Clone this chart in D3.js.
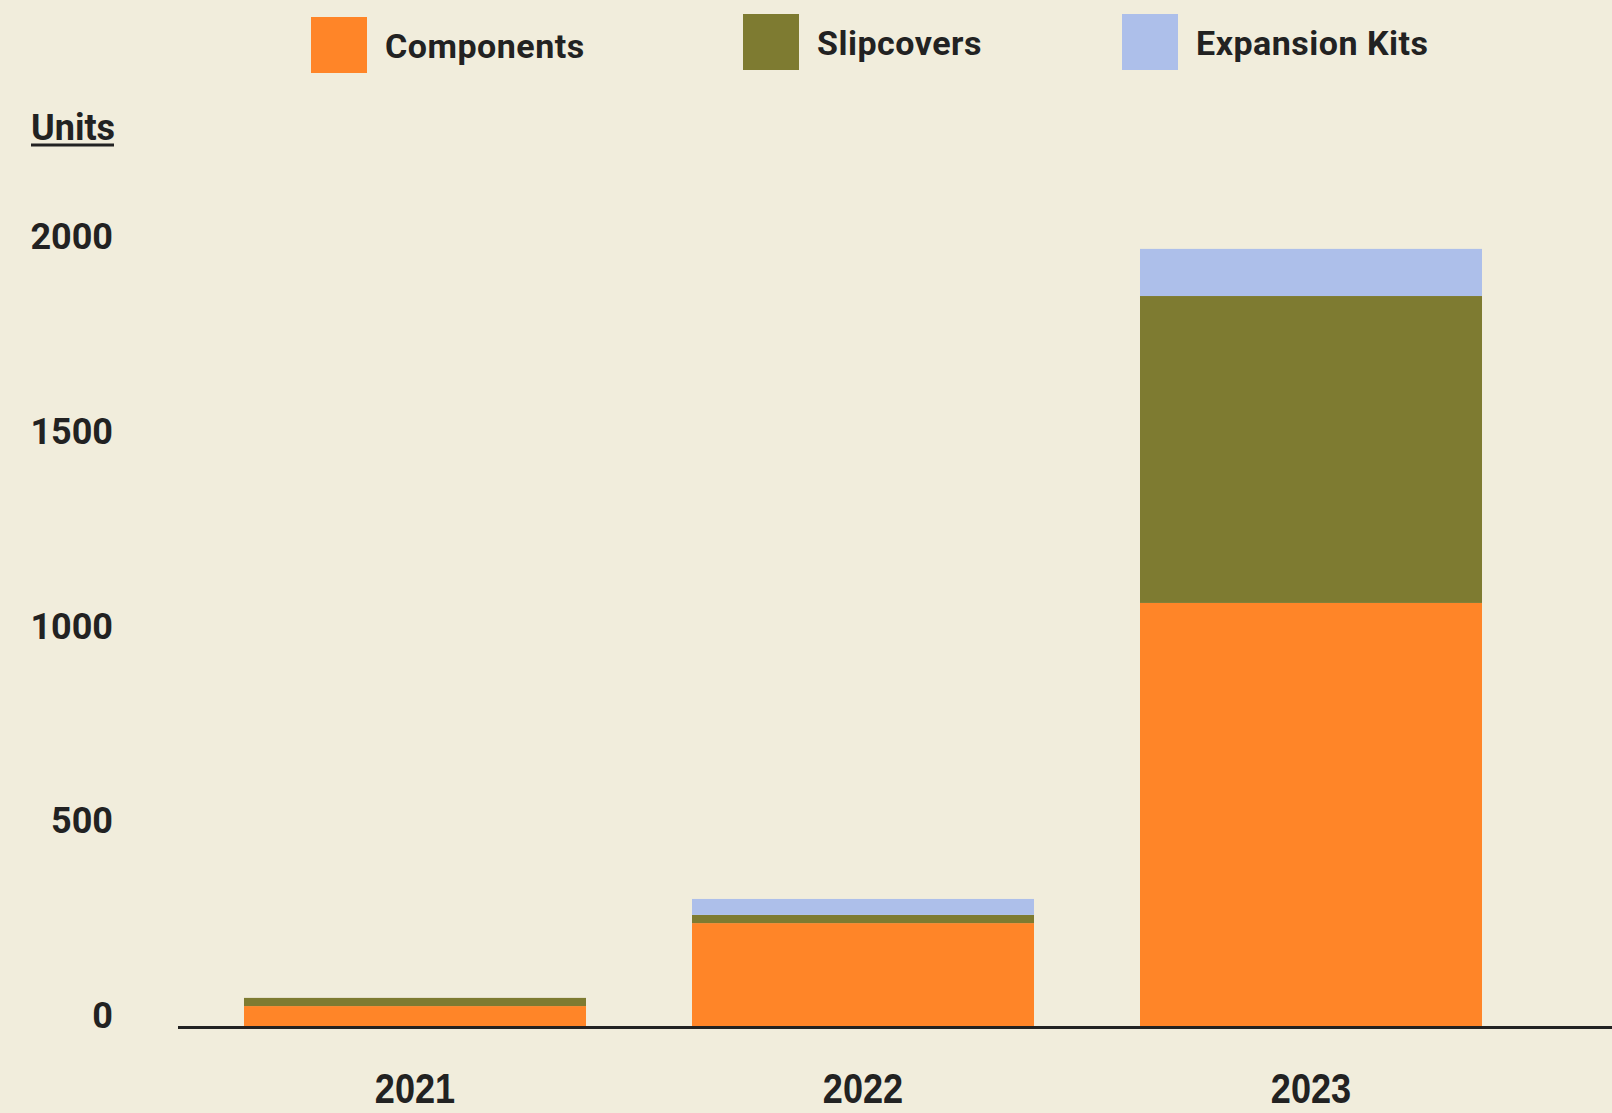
<!DOCTYPE html>
<html>
<head>
<meta charset="utf-8">
<script src="https://cdn.jsdelivr.net/npm/d3@7"></script>
<style>
  body { margin: 0; background: #f1eddc; }
</style>
</head>
<body>
<div id="grafico"></div>
<script>
// data
const years  = ['2021', '2022', '2023'];
const series = ['Components', 'Slipcovers', 'Expansion Kits'];
const components    = [55, 268, 1090];
const slipcovers    = [21, 21, 788];
const expansionKits = [0, 41, 121];
const yTicks = [0, 500, 1000, 1500, 2000];
const colors = ['#ff8528', '#7e7b31', '#adbfea'];

const width  = 1612;
const height = 1113;
const ink = '#222222';

const data = years.map((y, i) => ({
    year: y,
    'Components': components[i],
    'Slipcovers': slipcovers[i],
    'Expansion Kits': expansionKits[i]
}));

const svg = d3.select('#grafico')
              .append('svg')
              .attr('width', width)
              .attr('height', height);

svg.append('rect')
   .attr('width', width)
   .attr('height', height)
   .attr('fill', '#f1eddc');

const xScale = d3.scaleBand()
                 .domain(years)
                 .range([138, 1588])
                 .padding(0.2366);

const yScale = d3.scaleLinear()
                 .domain([0, 2000])
                 .range([1027.5, 248.5]);

const colorScale = d3.scaleOrdinal()
                     .domain(series)
                     .range(colors);

const stacked = d3.stack().keys(series)(data);

svg.append('g')
   .selectAll('g')
   .data(stacked)
   .enter()
   .append('g')
   .attr('fill', d => colorScale(d.key))
   .selectAll('rect')
   .data(d => d)
   .enter()
   .append('rect')
   .attr('x', d => xScale(d.data.year))
   .attr('y', d => yScale(d[1]))
   .attr('width', xScale.bandwidth())
   .attr('height', d => yScale(d[0]) - yScale(d[1]));

// baseline
svg.append('line')
   .attr('x1', 178)
   .attr('x2', width)
   .attr('y1', yScale(0))
   .attr('y2', yScale(0))
   .attr('stroke', ink)
   .attr('stroke-width', 3);

// y axis
const yAxis = svg.append('g')
   .attr('transform', 'translate(113, 0)')
   .call(d3.axisLeft(yScale)
           .tickValues(yTicks)
           .tickFormat(d3.format('d'))
           .tickSize(0)
           .tickPadding(0));
yAxis.select('.domain').remove();
yAxis.selectAll('text')
     .attr('dy', '0')
     .attr('fill', ink)
     .style('font-family', 'Roboto, sans-serif')
     .style('font-weight', 700)
     .style('font-size', '36px');

// x axis
const xAxis = svg.append('g')
   .attr('transform', `translate(0, ${yScale(0)})`)
   .call(d3.axisBottom(xScale).tickSize(0).tickPadding(0));
xAxis.select('.domain').remove();
xAxis.selectAll('text')
     .attr('y', 75.5)
     .attr('dy', '0')
     .attr('transform', 'scale(0.86, 1)')
     .attr('fill', ink)
     .style('font-family', '"Liberation Sans", Arial, sans-serif')
     .style('font-weight', 700)
     .style('font-size', '42px');

// units label
svg.append('text')
   .attr('x', 31)
   .attr('y', 139.5)
   .attr('fill', ink)
   .style('font-family', 'Roboto, sans-serif')
   .style('font-weight', 700)
   .style('font-size', '36px')
   .text('Units');
svg.append('rect')
   .attr('x', 31)
   .attr('y', 143.5)
   .attr('width', 83)
   .attr('height', 3)
   .attr('fill', ink);

// legend
const legendX = [311, 743, 1122];
const legendY = [17, 14, 14];
const legend = svg.append('g')
   .selectAll('g')
   .data(series)
   .enter()
   .append('g')
   .attr('transform', (d, i) => `translate(${legendX[i]}, ${legendY[i]})`);

legend.append('rect')
      .attr('width', 56)
      .attr('height', 56)
      .attr('fill', d => colorScale(d));

legend.append('text')
      .attr('x', 74)
      .attr('y', 41)
      .attr('fill', ink)
      .style('font-family', 'Roboto, sans-serif')
      .style('font-weight', 700)
      .style('font-size', '34px')
      .style('letter-spacing', '0.5px')
      .text(d => d);
</script>
</body>
</html>
